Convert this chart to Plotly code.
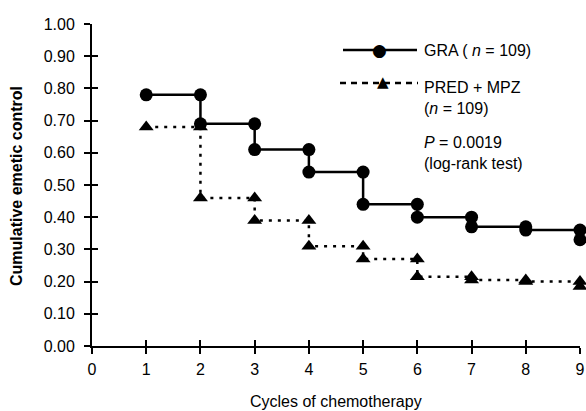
import plotly.graph_objects as go

# ---- data ----
cycles = [1, 2, 3, 4, 5, 6, 7, 8, 9]
x_ticks = [0, 1, 2, 3, 4, 5, 6, 7, 8, 9]
y_ticks = [0.0, 0.1, 0.2, 0.3, 0.4, 0.5, 0.6, 0.7, 0.8, 0.9, 1.0]
# level of cumulative emetic control after each cycle (step function)
gra_levels = [0.78, 0.69, 0.61, 0.54, 0.44, 0.40, 0.37, 0.36, 0.33]
pred_levels = [0.68, 0.46, 0.39, 0.31, 0.27, 0.215, 0.205, 0.20, 0.185]

gra_name = "GRA ( <i>n</i> = 109)"
pred_name = "PRED + MPZ<br>(<i>n</i> = 109)"
p_text = "<i>P</i> = 0.0019<br>(log-rank test)"
x_title = "Cycles of chemotherapy"
y_title = "Cumulative emetic control"


def step_path(xs, levels):
    px, py = [], []
    for i, c in enumerate(xs):
        if i > 0:
            px.append(c)
            py.append(levels[i - 1])
        px.append(c)
        py.append(levels[i])
    return px, py


FONT = "Liberation Sans, Arial, sans-serif"
W, H = 586, 411
L, R, T, B = 92, 6, 24, 65
pw, ph = W - L - R, H - T - B


def xp(px):  # window pixel -> paper x
    return (px - L) / pw


def yp(py):  # window pixel -> paper y
    return 1 - (py - T) / ph


gx, gy = step_path(cycles, gra_levels)
px_, py_ = step_path(cycles, pred_levels)

fig = go.Figure()
fig.add_trace(go.Scatter(
    x=gx, y=gy, mode="lines+markers", name=gra_name,
    line=dict(color="black", width=2.5),
    marker=dict(symbol="circle", size=13, color="black"),
    cliponaxis=False, hoverinfo="skip",
))
fig.add_trace(go.Scatter(
    x=px_, y=py_, mode="lines+markers", name=pred_name,
    line=dict(color="black", width=2.5, dash="3px,6px"),
    marker=dict(symbol="triangle-up", size=13, color="black"),
    cliponaxis=False, xaxis="x2", yaxis="y2", hoverinfo="skip",
))

axis_common = dict(showgrid=False, zeroline=False, tickwidth=2, ticklen=6,
                   tickcolor="black", automargin=False)
shapes = [
    dict(type="line", xref="paper", yref="paper", x0=xp(343), x1=xp(417),
         y0=yp(50), y1=yp(50), line=dict(color="black", width=2.5)),
    dict(type="line", xref="paper", yref="paper", x0=xp(340), x1=xp(418),
         y0=yp(83), y1=yp(83), line=dict(color="black", width=2.5, dash="6px,5px")),
]
fig.update_layout(
    template="none",
    width=W, height=H,
    margin=dict(l=L, r=R, t=T, b=B, pad=0, autoexpand=False),
    paper_bgcolor="white", plot_bgcolor="white",
    font=dict(family=FONT, size=16, color="black"),
    showlegend=False,
    xaxis=dict(range=[0, 9], tickvals=x_ticks, ticks="outside", showline=True,
               linewidth=2, linecolor="black", ticklabelstandoff=2,
               tickfont=dict(size=16), **axis_common),
    yaxis=dict(range=[0, 1], tickvals=y_ticks, tickformat=".2f", ticks="outside",
               showline=True, linewidth=2, linecolor="black",
               ticklabelstandoff=6, tickfont=dict(size=16), **axis_common),
    xaxis2=dict(range=[0, 9], tickvals=x_ticks, ticks="inside", overlaying="x",
                anchor="y2", side="bottom", showticklabels=False, showline=False,
                **axis_common),
    yaxis2=dict(range=[0, 1], tickvals=y_ticks, ticks="inside", overlaying="y",
                anchor="x2", side="left", showticklabels=False, showline=False,
                **axis_common),
    shapes=shapes,
    annotations=[
        dict(text="\u25CF", xref="paper", yref="paper", x=xp(379), y=yp(50),
             xanchor="center", yanchor="middle", showarrow=False,
             font=dict(size=17, family="DejaVu Sans")),
        dict(text="\u25B2", xref="paper", yref="paper", x=xp(383), y=yp(82),
             xanchor="center", yanchor="middle", showarrow=False,
             font=dict(size=15, family="DejaVu Sans")),
        dict(text=gra_name, xref="paper", yref="paper", x=xp(422), y=yp(50),
             xanchor="left", yanchor="middle", showarrow=False, align="left"),
        dict(text=pred_name, xref="paper", yref="paper", x=xp(422), y=yp(97.5),
             xanchor="left", yanchor="middle", showarrow=False, align="left"),
        dict(text=p_text, xref="paper", yref="paper", x=xp(422), y=yp(153),
             xanchor="left", yanchor="middle", showarrow=False, align="left"),
        dict(text=x_title, xref="paper", yref="paper", x=0.5, y=yp(401),
             xanchor="center", yanchor="middle", showarrow=False),
        dict(text="<b>" + y_title + "</b>", xref="paper", yref="paper",
             x=xp(17), y=yp(186), xanchor="center", yanchor="middle",
             textangle=-90, showarrow=False, font=dict(size=16)),
    ],
)

fig.write_html(
    "out.html",
    config={"displayModeBar": False, "staticPlot": True},
    post_script="document.body.style.margin='0px';"
                "document.body.style.overflow='hidden';",
)
